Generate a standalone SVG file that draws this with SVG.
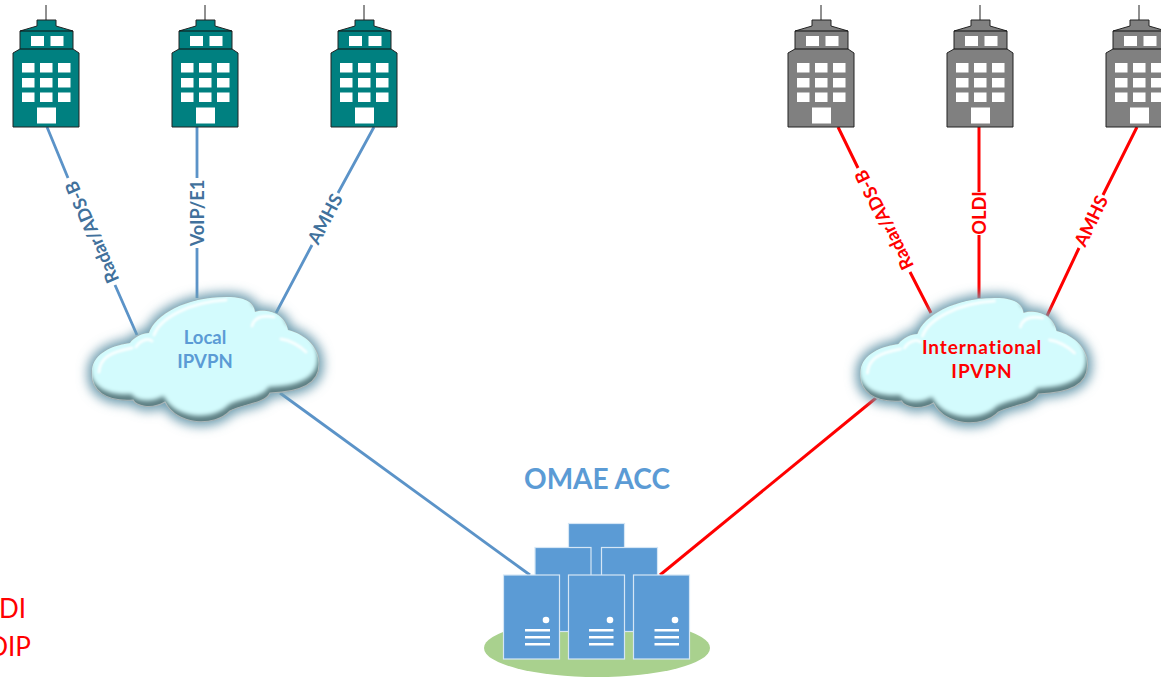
<svg xmlns="http://www.w3.org/2000/svg" xmlns:xlink="http://www.w3.org/1999/xlink" width="1161" height="677" viewBox="0 0 1161 677">
<style>
text{font-family:"Lato","Carlito","Liberation Sans",sans-serif;font-weight:700;text-anchor:middle}
.wire{fill:none;stroke-width:2.800}
.blue{stroke:#5b93c8}.red{stroke:#ff0000;stroke-width:3}
.lb{fill:#41719c;font-size:18.200px}
.lr{fill:#ff0000;font-size:18.200px}
.teal{fill:#008080}.grey{fill:#808080}
.bd{stroke:#222;stroke-width:1;stroke-linejoin:miter}
.win{fill:#fff;stroke:none}
.srv{fill:#5b9bd5;stroke:#d5e6f5;stroke-width:1.200}
.det{fill:#fff}
.cl{fill:#5b9bd5;font-size:18.500px}
.cr{fill:#ff0000;font-size:19px;letter-spacing:.9px}
.side{fill:#ff0000;font-size:26px;font-weight:400;text-anchor:end}
</style>
<defs>
<filter id="glow" x="-20%" y="-30%" width="140%" height="160%"><feGaussianBlur stdDeviation="5.500"/></filter>
<filter id="soft" x="-20%" y="-30%" width="140%" height="160%"><feGaussianBlur stdDeviation="2"/></filter>
<filter id="softer" x="-20%" y="-30%" width="140%" height="160%"><feGaussianBlur stdDeviation="1.300"/></filter>
<path id="cloudShape" d="M92,373C91,357 107,346 130,343C134,337 143,333 149,333C155,315 185,297 227,297C248,297 254,304 255,312C264,309 284,311 288,330C308,335 320,350 319,365C319,384 300,392 270,393C265,404 242,404 230,411C215,427 177,426 165,402C151,410 136,406 133,400C105,402 91,390 92,373Z"/>
<clipPath id="cloudClip"><use xlink:href="#cloudShape"/></clipPath>
<g id="building">
<path d="M46,5V20" fill="none" stroke="#222" stroke-width="1"/>
<path class="bd" d="M37,20H56V26L73,31V49L79,53V127H13V53L20,49V31L37,26Z"/>
<path fill="none" stroke="#111" stroke-width="1.200" d="M20,31H73M20,49H73"/>
<g class="win">
<rect x="31" y="36" width="13" height="10"/><rect x="50.500" y="36" width="13" height="10"/>
<rect x="22" y="63" width="12.500" height="9.500"/><rect x="40" y="63" width="12.500" height="9.500"/><rect x="58" y="63" width="12.500" height="9.500"/>
<rect x="22" y="78" width="12.500" height="9.500"/><rect x="40" y="78" width="12.500" height="9.500"/><rect x="58" y="78" width="12.500" height="9.500"/>
<rect x="22" y="92.500" width="12.500" height="9.500"/><rect x="40" y="92.500" width="12.500" height="9.500"/><rect x="58" y="92.500" width="12.500" height="9.500"/>
<rect x="37" y="107.500" width="19" height="16"/>
</g>
</g>
<g id="cloud">
<use xlink:href="#cloudShape" fill="#6f9eb0" stroke="#6f9eb0" stroke-width="9" filter="url(#glow)"/>
<use xlink:href="#cloudShape" fill="#5f8185" stroke="#a8b4b6" stroke-width="1.200"/>
<g clip-path="url(#cloudClip)">
<use xlink:href="#cloudShape" fill="#d3fbfd" filter="url(#soft)" transform="translate(-1.500,-6)"/>
<g fill="none" stroke="#fff" opacity=".85" filter="url(#softer)" stroke-width="3" stroke-linecap="round">
<path d="M154,335C160,318 190,302 226,300"/>
<path d="M99,372C100,358 110,352 132,348"/>
<path d="M252,326C254,318 262,315 274,317"/>
<path d="M281,339C290,340 300,346 306,352"/>
<path d="M136,347C140,340 148,338 152,341"/>
</g>
</g>
</g>
</defs>

<g id="connectors">
<path class="wire blue" d="M47,127L68,178M115,285L137,335"/>
<path class="wire blue" d="M197,127V178M197,248V298"/>
<path class="wire blue" d="M374,127L338,193M312,245L276,313"/>
<path class="wire blue" d="M280,393L530,575"/>
<path class="wire red" d="M838,127L858,168M910,272L931,313"/>
<path class="wire red" d="M979,127V192M979,235V298"/>
<path class="wire red" d="M1137,127L1103,195M1079,248L1046,318"/>
<path class="wire red" d="M876,398L660,575"/>
</g>

<g id="bld-radar-local" class="teal"><use xlink:href="#building"/></g>
<g id="bld-voip-local" class="teal"><use xlink:href="#building" x="159"/></g>
<g id="bld-amhs-local" class="teal"><use xlink:href="#building" x="318"/></g>
<g id="bld-radar-intl" class="grey"><use xlink:href="#building" x="775"/></g>
<g id="bld-oldi-intl" class="grey"><use xlink:href="#building" x="934"/></g>
<g id="bld-amhs-intl" class="grey"><use xlink:href="#building" x="1093"/></g>

<g id="link-labels">
<text class="lb" transform="translate(92,232) rotate(-113.400)" y="6.500">Radar/ADS-B</text>
<text class="lb" transform="translate(197,213) rotate(-90)" y="6.500">VoIP/E1</text>
<text class="lb" transform="translate(325,219) rotate(-62.200)" y="6.500">AMHS</text>
<text class="lr" transform="translate(884,220) rotate(-116.600)" y="6.500">Radar/ADS-B</text>
<text class="lr" transform="translate(979,213) rotate(-90)" y="6.500">OLDI</text>
<text class="lr" transform="translate(1091,221) rotate(-64.500)" y="6.500">AMHS</text>
</g>

<g id="cloud-local"><use xlink:href="#cloud"/><text class="cl" x="205" y="344">Local</text><text class="cl" x="205" y="368">IPVPN</text></g>
<g id="cloud-intl"><use xlink:href="#cloud" transform="translate(768.500,1)"/><text class="cr" x="982" y="354">International</text><text class="cr" x="982" y="378">IPVPN</text></g>

<g id="omae-acc">
<ellipse cx="597" cy="648" rx="113" ry="29" fill="#a9d18e"/>
<rect class="srv" x="568.500" y="523.500" width="56" height="107"/>
<rect class="srv" x="535" y="547.500" width="56" height="84"/>
<rect class="srv" x="601.500" y="547.500" width="56" height="84"/>
<rect class="srv" x="503.500" y="575" width="56" height="84"/>
<rect class="srv" x="568.500" y="575" width="56" height="84"/>
<rect class="srv" x="633.500" y="575" width="56" height="84"/>
<g class="det">
<circle cx="546" cy="620" r="3.300"/><rect x="525" y="629" width="25" height="2.500"/><rect x="525" y="636" width="25" height="2.500"/><rect x="525" y="643" width="25" height="2.500"/>
<circle cx="610" cy="620" r="3.300"/><rect x="589" y="629" width="24.500" height="2.500"/><rect x="589" y="636" width="24.500" height="2.500"/><rect x="589" y="643" width="24.500" height="2.500"/>
<circle cx="675" cy="620" r="3.300"/><rect x="654.500" y="629" width="24.500" height="2.500"/><rect x="654.500" y="636" width="24.500" height="2.500"/><rect x="654.500" y="643" width="24.500" height="2.500"/>
</g>
<text x="597" y="489" fill="#5b9bd5" font-size="28px">OMAE ACC</text>
</g>

<g id="side-labels">
<text class="side" x="26" y="618">DI</text>
<text class="side" x="31" y="656">OIP</text>
</g>
</svg>
